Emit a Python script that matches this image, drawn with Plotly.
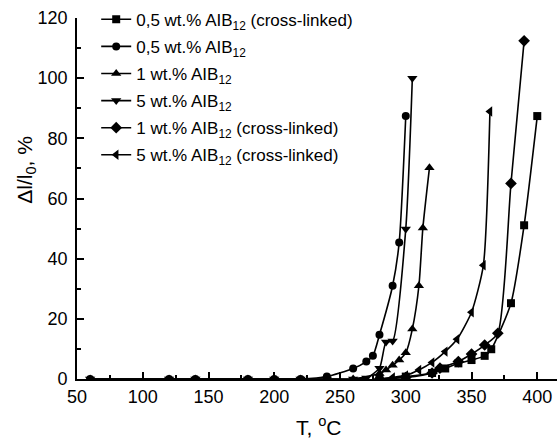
import plotly.graph_objects as go

# Data
names = [
    "0,5 wt.% AIB<sub>12</sub> (cross-linked)",
    "0,5 wt.% AIB<sub>12</sub>",
    "1 wt.% AIB<sub>12</sub>",
    "5 wt.% AIB<sub>12</sub>",
    "1 wt.% AIB<sub>12</sub> (cross-linked)",
    "5 wt.% AIB<sub>12</sub> (cross-linked)",
]
symbols = ["square", "circle", "triangle-up", "triangle-down", "diamond", "triangle-left"]
marker_sizes = [8, 8, 9, 9, 9, 9]

x_sq = [280, 300, 320, 330, 340, 350, 360, 365, 380, 390, 400]
y_sq = [0, 0.8, 2.0, 3.5, 5.2, 6.3, 7.7, 9.9, 25.2, 51.1, 87.4]

x_ci = [60, 120, 140, 180, 200, 220, 240, 260, 270, 275, 280, 290, 295, 300]
y_ci = [0, 0, 0, 0, 0, 0, 0.8, 3.5, 5.8, 7.7, 14.7, 31.0, 45.4, 87.4]

x_tu = [60, 120, 140, 180, 200, 220, 240, 260, 280, 285, 290, 295, 300, 305, 310, 313, 318]
y_tu = [0, 0, 0, 0, 0, 0, 0, 0, 1.8, 3.0, 4.6, 6.3, 8.7, 16.6, 31.0, 50.2, 70.2]

x_td = [60, 120, 140, 180, 200, 220, 240, 260, 270, 280, 285, 290, 300, 305]
y_td = [0, 0, 0, 0, 0, 0, 0, 0, 0.3, 3.6, 12.3, 12.6, 49.9, 100.0]

x_di = [280, 300, 320, 326, 340, 350, 360, 370, 380, 390]
y_di = [0, 0.5, 2.0, 3.6, 5.8, 8.3, 11.3, 15.2, 65.0, 112.4]

x_tl = [280, 290, 300, 310, 320, 330, 339, 350, 359, 364]
y_tl = [0, 0.5, 1.2, 3.0, 5.5, 9.1, 13.2, 22.2, 37.8, 88.9]

xs = [x_sq, x_ci, x_tu, x_td, x_di, x_tl]
ys = [y_sq, y_ci, y_tu, y_td, y_di, y_tl]

x_ticks = [50, 100, 150, 200, 250, 300, 350, 400]
y_ticks = [0, 20, 40, 60, 80, 100, 120]

x_title = "T, <sup>o</sup>C"
y_title = "Δl/l<sub>0</sub>, %"

FONT = "Liberation Sans, Arial, sans-serif"
NARROW = "Liberation Sans Narrow, Arial Narrow, Liberation Sans, sans-serif"

fig = go.Figure()
for i, (n, s, ms, xv, yv) in enumerate(zip(names, symbols, marker_sizes, xs, ys)):
    fig.add_trace(go.Scatter(
        x=xv, y=yv, name=n, mode="lines+markers", legendgroup=f"g{i}",
        line=dict(color="black", width=1.6, shape="spline", smoothing=0.6),
        marker=dict(symbol=s, size=ms, color="black"),
    ))

axis_common = dict(
    showline=True, linecolor="black", linewidth=1.8, mirror=False,
    showgrid=False, zeroline=False,
    ticks="inside", ticklen=7, tickwidth=1.5, tickcolor="black",
    tickfont=dict(family=FONT, size=18, color="black"),
)

fig.update_layout(
    width=558, height=441,
    margin=dict(l=77, r=1, t=18, b=62),
    paper_bgcolor="white", plot_bgcolor="white",
    font=dict(family=FONT, color="black"),
    showlegend=True,
    legend=dict(
        x=0.040, y=1.045, xanchor="left", yanchor="top",
        bgcolor="rgba(0,0,0,0)", borderwidth=0,
        font=dict(family=FONT, size=17, color="black"),
        itemwidth=30, tracegroupgap=2,
    ),
    xaxis=dict(
        range=[50, 415], tickvals=x_ticks, ticktext=[str(v) for v in x_ticks],
        minor=dict(ticks="inside", ticklen=4, tickwidth=1.5, tickcolor="black", dtick=25, tick0=75),
        **axis_common,
    ),
    yaxis=dict(
        range=[0, 120], tickvals=y_ticks, ticktext=[str(v) for v in y_ticks],
        ticklabelstandoff=4,
        minor=dict(ticks="inside", ticklen=4, tickwidth=1.5, tickcolor="black", dtick=10),
        **axis_common,
    ),
    annotations=[
        dict(text=x_title, xref="paper", yref="paper", x=0.504, y=-0.13,
             xanchor="center", yanchor="middle", showarrow=False,
             font=dict(family=FONT, size=21, color="black")),
        dict(text=y_title, xref="paper", yref="paper", x=-0.108, y=0.58,
             xanchor="center", yanchor="middle", showarrow=False, textangle=-90,
             font=dict(family=NARROW, size=21, color="black")),
    ],
)

fig.write_html("out.html")
